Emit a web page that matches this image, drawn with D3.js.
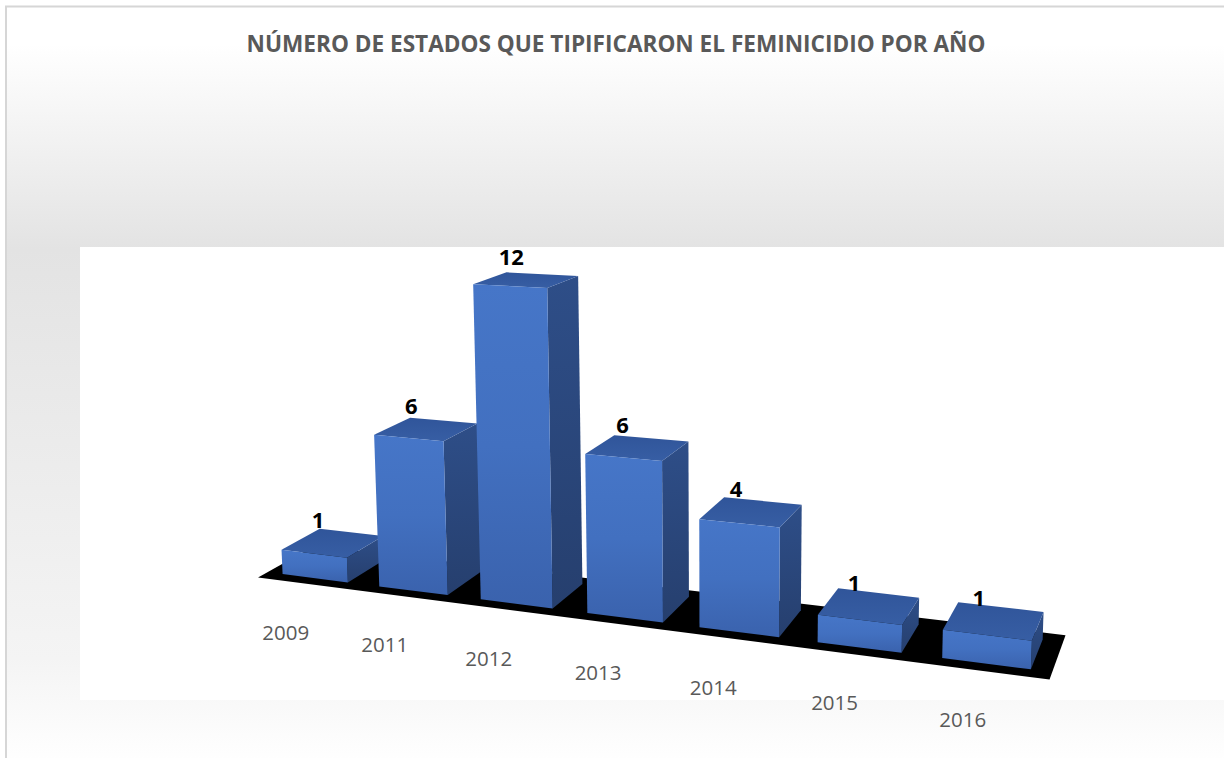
<!DOCTYPE html>
<html>
<head>
<meta charset="utf-8">
<script src="https://cdn.jsdelivr.net/npm/d3@7"></script>
<style>
  body { margin: 0; background: #fff; }
  svg { display: block; }
</style>
</head>
<body>
<script>
// chart data
var years = ["2009", "2011", "2012", "2013", "2014", "2015", "2016"];
var states = [1, 6, 12, 6, 4, 1, 1];
var title = "NÚMERO DE ESTADOS QUE TIPIFICARON EL FEMINICIDIO POR AÑO";

var width = 1224, height = 758;

// camera (3d view like the excel chart)
var yaw = 22.3 * Math.PI / 180,
    pitch = 9.6 * Math.PI / 180,
    roll = -0.8 * Math.PI / 180,
    focal = 1740,
    cx = 577, cy = 298,
    shift = [0.531, 2.637, 14.96];

// world scales
var xBand = d3.scaleBand().domain(years).range([-3.5, 3.5])
  .paddingInner(0.32).paddingOuter(0.16);
var yVal = d3.scaleLinear().domain([0, 12]).range([0, 2.78]);
var depth = xBand.bandwidth() / 2;   // bars have square footprint
var floorDepth = 0.5;

function project(p) {
  var x = p[0] * Math.cos(yaw) + p[2] * Math.sin(yaw);
  var y = -p[1];
  var z = -p[0] * Math.sin(yaw) + p[2] * Math.cos(yaw);
  var y2 = y * Math.cos(pitch) - z * Math.sin(pitch);
  var z2 = y * Math.sin(pitch) + z * Math.cos(pitch);
  var x3 = x * Math.cos(roll) - y2 * Math.sin(roll);
  var y3 = x * Math.sin(roll) + y2 * Math.cos(roll);
  x3 += shift[0]; y3 += shift[1]; z2 += shift[2];
  return [cx + focal * x3 / z2, cy + focal * y3 / z2];
}

var poly = d3.line()
  .x(function (d) { return project(d)[0]; })
  .y(function (d) { return project(d)[1]; })
  .curve(d3.curveLinearClosed);

var svg = d3.select("body").append("svg")
  .attr("width", width)
  .attr("height", height);

var defs = svg.append("defs");

function vGrad(id, stops) {
  var g = defs.append("linearGradient").attr("id", id)
    .attr("x1", 0).attr("y1", 0).attr("x2", 0).attr("y2", 1);
  stops.forEach(function (s) {
    g.append("stop").attr("offset", s[0]).attr("stop-color", s[1]);
  });
}
vGrad("bg", [[0, "#ffffff"], [0.05, "#ffffff"], [0.32, "#e3e3e3"], [0.86, "#f4f4f4"], [1, "#ffffff"]]);
vGrad("front", [[0, "#4676c8"], [0.5, "#4270c0"], [1, "#3a62ad"]]);
vGrad("side", [[0, "#2e4e88"], [1, "#263f6e"]]);
vGrad("top", [[0, "#30559a"], [1, "#375ea4"]]);

// chart area background
svg.append("rect")
  .attr("x", 6).attr("y", 6.5)
  .attr("width", width).attr("height", height)
  .attr("fill", "url(#bg)")
  .attr("stroke", "#d6d6d6")
  .attr("stroke-width", 2);

// plot area
svg.append("rect")
  .attr("x", 80).attr("y", 247)
  .attr("width", width - 80).attr("height", 453)
  .attr("fill", "#ffffff");

svg.append("text")
  .attr("x", 616).attr("y", 52)
  .attr("text-anchor", "middle")
  .attr("font-family", "Open Sans")
  .attr("font-weight", "bold")
  .attr("font-size", 22.6)
  .attr("fill", "#595959")
  .text(title);

var g = svg.append("g");

// floor
var x0 = xBand.range()[0], x1 = xBand.range()[1];
g.append("path")
  .attr("d", poly([[x0, 0, -floorDepth], [x1, 0, -floorDepth], [x1, 0, floorDepth], [x0, 0, floorDepth]]))
  .attr("fill", "#000");

var data = years.map(function (y, i) { return { year: y, value: states[i] }; });

// bars, far (left) to near (right)
var bars = g.selectAll("g.bar")
  .data(data)
  .enter().append("g")
  .attr("class", "bar");

function corners(d) {
  var a = xBand(d.year), b = a + xBand.bandwidth(), h = yVal(d.value);
  return { a: a, b: b, h: h };
}

bars.append("path")
  .attr("d", function (d) {
    var c = corners(d);
    return poly([[c.b, 0, -depth], [c.b, 0, depth], [c.b, c.h, depth], [c.b, c.h, -depth]]);
  })
  .attr("fill", "url(#side)");

bars.append("path")
  .attr("d", function (d) {
    var c = corners(d);
    return poly([[c.a, c.h, -depth], [c.b, c.h, -depth], [c.b, c.h, depth], [c.a, c.h, depth]]);
  })
  .attr("fill", "url(#top)");

bars.append("path")
  .attr("d", function (d) {
    var c = corners(d);
    return poly([[c.a, 0, -depth], [c.b, 0, -depth], [c.b, c.h, -depth], [c.a, c.h, -depth]]);
  })
  .attr("fill", "url(#front)");

// value labels
g.selectAll("text.val")
  .data(data)
  .enter().append("text")
  .attr("class", "val")
  .attr("x", function (d) { return project([xBand(d.year) + xBand.bandwidth() / 2, yVal(d.value), 0])[0] - 15; })
  .attr("y", function (d) { return project([xBand(d.year) + xBand.bandwidth() / 2, yVal(d.value), 0])[1] - 15; })
  .attr("text-anchor", "middle")
  .attr("font-family", "Open Sans")
  .attr("font-weight", "bold")
  .attr("font-size", 22)
  .attr("fill", "#000")
  .text(function (d) { return d.value; });

// category labels
g.selectAll("text.cat")
  .data(years)
  .enter().append("text")
  .attr("class", "cat")
  .attr("x", function (d) { return project([xBand(d) + xBand.bandwidth() / 2, 0, -floorDepth])[0] - 20; })
  .attr("y", function (d) { return project([xBand(d) + xBand.bandwidth() / 2, 0, -floorDepth])[1] + 56; })
  .attr("text-anchor", "middle")
  .attr("font-family", "Open Sans")
  .attr("font-size", 20.5)
  .attr("fill", "#595959")
  .text(function (d) { return d; });
</script>
</body>
</html>
